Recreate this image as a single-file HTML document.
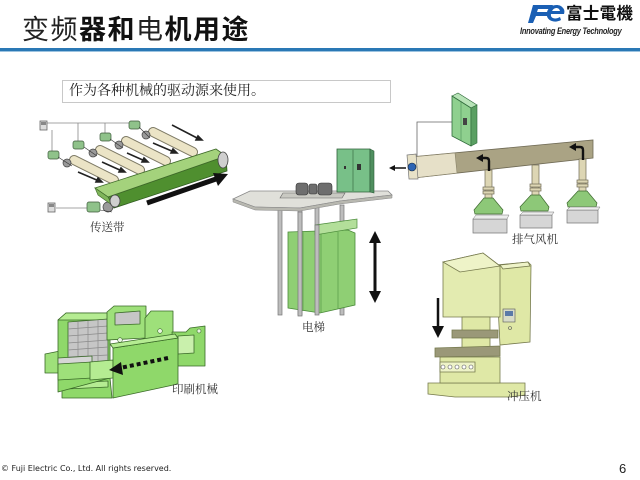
<!DOCTYPE html>
<html><head><meta charset="utf-8">
<style>
html,body{margin:0;padding:0;background:#fff;}
body{width:640px;height:480px;position:relative;overflow:hidden;font-family:"Liberation Sans","Noto Sans CJK SC",sans-serif;}
.title{position:absolute;left:22px;top:13px;font-family:"Liberation Sans","Noto Sans CJK SC",sans-serif;font-size:27px;line-height:34px;letter-spacing:1.5px;color:#111;white-space:nowrap;}
.title b{font-weight:bold;}
.title span{font-weight:normal;color:#222;}
.rule{position:absolute;left:0;top:48px;width:640px;height:3px;background:#2a78b5;}
.rule2{position:absolute;left:0;top:51px;width:640px;height:1px;background:#9cc3e0;}
.box{position:absolute;left:62px;top:80px;width:329px;height:23px;border:1px solid #c8c8c8;box-sizing:border-box;font-family:"Liberation Serif","Noto Serif CJK SC",serif;font-size:14px;line-height:22px;padding-left:6px;color:#222;white-space:nowrap;}
.lbl{position:absolute;font-family:"Liberation Serif","Noto Serif CJK SC",serif;font-size:11.5px;color:#333;white-space:nowrap;line-height:14px;}
.foot{position:absolute;left:1px;top:464px;font-family:"DejaVu Sans","Liberation Sans",sans-serif;font-size:8px;color:#222;white-space:nowrap;}
.pg{position:absolute;left:619px;top:461px;font-family:"Liberation Sans",sans-serif;font-size:13px;color:#222;}
.logo1{position:absolute;left:566px;top:4px;font-family:"Liberation Sans","Noto Sans CJK JP",sans-serif;font-weight:bold;font-size:16.5px;line-height:20px;color:#111;white-space:nowrap;letter-spacing:0.3px;}
.logo2{position:absolute;left:520px;top:26px;font-family:"Liberation Sans",sans-serif;font-weight:bold;font-style:italic;font-size:9.5px;color:#222;white-space:nowrap;letter-spacing:-0.3px;transform:scaleX(0.78);transform-origin:left;}
svg{position:absolute;left:0;top:0;}
</style></head><body>
<div class="title"><span>变频</span><b>器和</b><span>电</span><b>机用途</b></div>
<div class="rule"></div><div class="rule2"></div>
<div class="logo1">富士電機</div>
<div class="logo2">Innovating Energy Technology</div>
<div class="box">作为各种机械的驱动源来使用。</div>

<svg width="640" height="480" viewBox="0 0 640 480">
<!-- Fe logo -->
<g fill="#1a5fb4">
<polygon points="533,5 553,5 551,9 538,9 537,12 549,12 548,16 536,16 533,23 528,23"/>
<path d="M563,8 C560,3 549,4 547,12 C545,20 554,24 561,20 L560,17 C555,20 550,18 551,14 L564,14 C565,11 564,9 563,8 Z M552,11 C554,7 559,7 560,11 Z"/>
</g>

<!-- ========== CONVEYOR ========== -->
<g stroke="#888" stroke-width="0.8" fill="none">
<polyline points="47,123 133,123"/>
<line x1="52" y1="130" x2="52" y2="152"/>
<line x1="78" y1="123" x2="78" y2="143"/>
<line x1="105" y1="123" x2="105" y2="134"/>
<line x1="133" y1="123" x2="133" y2="124"/>
<line x1="56" y1="208" x2="88" y2="208"/>
</g>
<rect x="40" y="121" width="7" height="9" fill="#ddd" stroke="#666" stroke-width="0.8"/>
<rect x="41" y="122" width="5" height="3" fill="#888"/>
<rect x="48" y="203" width="7" height="9" fill="#ddd" stroke="#666" stroke-width="0.8"/>
<rect x="49" y="204" width="5" height="3" fill="#888"/>
<!-- small belts -->
<g stroke-linecap="round">
<line x1="74" y1="160" x2="114" y2="180" stroke="#7d7964" stroke-width="10"/>
<line x1="74" y1="160" x2="114" y2="180" stroke="#ebe4c6" stroke-width="8"/>
<line x1="100" y1="150" x2="140" y2="170" stroke="#7d7964" stroke-width="10"/>
<line x1="100" y1="150" x2="140" y2="170" stroke="#ebe4c6" stroke-width="8"/>
<line x1="126" y1="141" x2="166" y2="161" stroke="#7d7964" stroke-width="10"/>
<line x1="126" y1="141" x2="166" y2="161" stroke="#ebe4c6" stroke-width="8"/>
<line x1="153" y1="132" x2="193" y2="152" stroke="#7d7964" stroke-width="10"/>
<line x1="153" y1="132" x2="193" y2="152" stroke="#ebe4c6" stroke-width="8"/>
</g>
<!-- motors & pulleys -->
<g stroke="#3d5a3a" stroke-width="0.7">
<rect x="48" y="151" width="11" height="8" rx="2" fill="#8fc28a"/>
<rect x="73" y="141" width="11" height="8" rx="2" fill="#8fc28a"/>
<rect x="100" y="133" width="11" height="8" rx="2" fill="#8fc28a"/>
<rect x="129" y="121" width="11" height="8" rx="2" fill="#8fc28a"/>
<rect x="87" y="202" width="13" height="10" rx="2" fill="#8fc28a"/>
</g>
<g fill="#9a9a9a" stroke="#444" stroke-width="0.7">
<circle cx="67" cy="163" r="4"/><circle cx="93" cy="153" r="4"/>
<circle cx="119" cy="145" r="4"/><circle cx="146" cy="135" r="4"/>
<circle cx="108" cy="207" r="5"/>
</g>
<g stroke="#333" stroke-width="0.6" fill="none">
<line x1="58" y1="157" x2="72" y2="166"/><line x1="84" y1="147" x2="97" y2="156"/>
<line x1="110" y1="139" x2="123" y2="148"/><line x1="139" y1="127" x2="150" y2="138"/>
<line x1="100" y1="210" x2="112" y2="212"/>
</g>
<!-- small arrows -->
<g stroke="#222" stroke-width="1.6" fill="#222">
<line x1="78" y1="172" x2="99" y2="181"/><polygon points="102,182 96,182 98,178" />
<line x1="102" y1="162" x2="122" y2="171"/><polygon points="125,172 119,172 121,168"/>
<line x1="127" y1="153" x2="145" y2="161"/><polygon points="148,162 142,162 144,158"/>
<line x1="153" y1="143" x2="174" y2="152"/><polygon points="177,153 171,153 173,149"/>
<line x1="172" y1="125" x2="199" y2="139"/><polygon points="202,140 196,140 198,136"/>
</g>
<!-- main belt -->
<polygon points="108,197 226,156 227,171 114,208" fill="#4f8f2f" stroke="#2f5a20" stroke-width="0.8"/>
<polygon points="95,188 216,149 226,156 108,197" fill="#a4d27c" stroke="#3f6a2a" stroke-width="0.8"/>
<polygon points="95,188 108,197 112,205 98,195" fill="#7fb55a" stroke="#3f6a2a" stroke-width="0.6"/>
<ellipse cx="223" cy="160" rx="5" ry="8" fill="#cfcfcf" stroke="#444" stroke-width="0.8"/>
<ellipse cx="115" cy="201" rx="5" ry="6" fill="#cfcfcf" stroke="#444" stroke-width="0.8"/>
<!-- big arrow -->
<line x1="147" y1="203" x2="216" y2="179" stroke="#111" stroke-width="5"/>
<polygon points="228,174 213,173 218,186" fill="#111"/>

<!-- ========== ELEVATOR ========== -->
<g fill="#bdbdbd" stroke="#777" stroke-width="0.7">
<rect x="278" y="205" width="4" height="110"/>
<rect x="298" y="208" width="4" height="107"/>
<rect x="315" y="205" width="4" height="20"/>
<rect x="340" y="205" width="4" height="110"/>
</g>
<polygon points="233,199 250,191 388,191 392,195 340,201 300,208 255,207" fill="#e0e0da" stroke="#888" stroke-width="0.8"/>
<polygon points="233,199 255,207 300,208 340,201 392,195 392,198 340,204 300,211 255,210 233,202" fill="#b8b8b0" stroke="#888" stroke-width="0.5"/>
<polygon points="283,193 345,193 342,198 280,198" fill="#c9c9c2" stroke="#666" stroke-width="0.6"/>
<g fill="#6e6e6e" stroke="#333" stroke-width="0.6">
<rect x="296" y="183" width="12" height="12" rx="3"/>
<rect x="309" y="184" width="8" height="10" rx="2"/>
<rect x="318" y="183" width="14" height="12" rx="3"/>
</g>
<!-- cabinet -->
<polygon points="337,149 370,149 370,192 337,192" fill="#78c088" stroke="#2f5f3a" stroke-width="0.8"/>
<polygon points="370,149 374,151 374,193 370,192" fill="#4f8f5f" stroke="#2f5f3a" stroke-width="0.6"/>
<line x1="353" y1="150" x2="353" y2="191" stroke="#2f5f3a" stroke-width="0.6"/>
<rect x="357" y="164" width="4" height="6" fill="#333"/>
<rect x="344" y="166" width="2" height="3" fill="#333"/>
<!-- cabin -->
<polygon points="288,232 348,230 355,233 355,305 320,313 288,308" fill="#8fcf74" stroke="#4a8a3a" stroke-width="0.8"/>
<line x1="303" y1="232" x2="303" y2="311" stroke="#5d9f4b" stroke-width="0.8"/>
<line x1="321" y1="234" x2="321" y2="313" stroke="#5d9f4b" stroke-width="0.8"/>
<line x1="338" y1="232" x2="338" y2="309" stroke="#5d9f4b" stroke-width="0.8"/>
<polygon points="315,225 357,219 357,228 315,235" fill="#b3df9a" stroke="#4a8a3a" stroke-width="0.7"/>
<rect x="298" y="212" width="4" height="104" fill="#bdbdbd" stroke="#777" stroke-width="0.7"/>
<rect x="315" y="225" width="4" height="90" fill="#bdbdbd" stroke="#777" stroke-width="0.7"/>
<!-- double arrow -->
<line x1="375" y1="240" x2="375" y2="294" stroke="#111" stroke-width="3"/>
<polygon points="375,231 369,243 381,243" fill="#111"/>
<polygon points="375,303 369,291 381,291" fill="#111"/>

<!-- ========== FAN ========== -->
<polyline points="417,157 417,122 452,122" fill="none" stroke="#666" stroke-width="0.8"/>
<polygon points="452,96 458,93 477,105 471,108" fill="#b7e3b7" stroke="#2f6a3a" stroke-width="0.6"/>
<polygon points="452,96 471,108 471,146 452,136" fill="#8fd08f" stroke="#2f6a3a" stroke-width="0.8"/>
<polygon points="471,108 477,105 477,143 471,146" fill="#5a9f62" stroke="#2f6a3a" stroke-width="0.6"/>
<line x1="461" y1="101" x2="461" y2="141" stroke="#3f7f4a" stroke-width="0.5"/>
<rect x="463" y="118" width="4" height="7" fill="#444"/>
<!-- duct -->
<polygon points="410,157 593,140 593,158 413,178" fill="#aaa384" stroke="#6f6a55" stroke-width="0.8"/>
<polygon points="412,157 455,153 457,173 413,178" fill="#e6e0c8" stroke="#8a846a" stroke-width="0.6"/>
<polygon points="407,155 416,154 418,179 409,179" fill="#e8e2c8" stroke="#777" stroke-width="0.7"/>
<circle cx="412" cy="167" r="4" fill="#2d64b4" stroke="#123" stroke-width="0.6"/>
<line x1="392" y1="168" x2="406" y2="168" stroke="#111" stroke-width="1.5"/>
<polygon points="389,168 395,165 395,171" fill="#111"/>
<!-- pipes -->
<g fill="#ddd6b4" stroke="#6f6a55" stroke-width="0.7">
<rect x="485" y="170" width="7" height="30"/>
<rect x="532" y="165" width="7" height="32"/>
<rect x="579" y="159" width="7" height="34"/>
<rect x="483" y="187" width="11" height="3"/><rect x="483" y="191" width="11" height="3"/>
<rect x="530" y="184" width="11" height="3"/><rect x="530" y="188" width="11" height="3"/>
<rect x="577" y="180" width="11" height="3"/><rect x="577" y="184" width="11" height="3"/>
</g>
<g fill="#8dc878" stroke="#3f6a30" stroke-width="0.7">
<polygon points="484,198 493,198 503,210 502,214 475,214 474,210"/>
<polygon points="531,195 540,195 549,207 548,211 521,211 520,207"/>
<polygon points="578,191 587,191 597,203 596,207 568,207 567,203"/>
</g>
<g fill="#d6d6d6" stroke="#777" stroke-width="0.7">
<polygon points="473,219 507,219 507,233 473,233"/>
<polygon points="520,215 552,215 552,228 520,228"/>
<polygon points="567,210 598,210 598,223 567,223"/>
</g>
<g fill="#ececec" stroke="#777" stroke-width="0.5">
<polygon points="476,215 509,215 507,219 473,219"/>
<polygon points="523,212 554,212 552,215 520,215"/>
<polygon points="570,207 600,207 598,210 567,210"/>
</g>
<!-- curved arrows -->
<g fill="none" stroke="#111" stroke-width="2.4">
<path d="M489,171 L489,161 Q489,158 486,158 L482,158"/>
<path d="M583,160 L583,150 Q583,147 580,147 L575,147"/>
</g>
<polygon points="476,158 483,154 483,162" fill="#111"/>
<polygon points="569,147 576,143 576,151" fill="#111"/>

<!-- ========== PRINTING ========== -->
<g stroke="#3a6a28" stroke-width="0.8" stroke-linejoin="round">
<!-- bottom feet -->
<polygon points="62,380 110,378 112,398 62,398" fill="#8fd86a"/>
<polygon points="66,383 108,381 108,387 66,389" fill="#b5ec92"/>
<!-- left ledge -->
<polygon points="45,354 60,351 60,373 45,373" fill="#9ee07a"/>
<!-- left frame -->
<polygon points="58,320 66,313 110,313 110,378 58,392" fill="#8fd86a"/>
<polygon points="58,320 66,313 110,313 108,320" fill="#b5ec92"/>
<!-- gray rollers -->
<polygon points="68,322 108,319 108,362 68,364" fill="#c6c6c6"/>
</g>
<g stroke="#8a8a8a" stroke-width="0.7">
<line x1="68" y1="329" x2="108" y2="326"/><line x1="68" y1="336" x2="108" y2="333"/>
<line x1="68" y1="343" x2="108" y2="340"/><line x1="68" y1="350" x2="108" y2="347"/>
<line x1="68" y1="357" x2="108" y2="355"/>
<line x1="78" y1="322" x2="78" y2="364"/><line x1="88" y1="321" x2="88" y2="363"/><line x1="98" y1="320" x2="98" y2="362"/>
</g>
<g stroke="#3a6a28" stroke-width="0.8" stroke-linejoin="round">
<polygon points="58,358 92,356 92,363 58,365" fill="#d6d6d6"/>
<polygon points="58,364 92,362 92,378 58,380" fill="#9ee07a"/>
<polygon points="90,362 113,360 113,378 90,380" fill="#b5ec92"/>
<!-- top middle -->
<polygon points="107,312 114,306 146,306 146,338 107,340" fill="#9ee07a"/>
<polygon points="115,313 140,311 140,324 115,325" fill="#c6c6c6"/>
<!-- top right block -->
<polygon points="145,318 151,311 173,311 173,342 145,342" fill="#9ee07a"/>
<!-- right extension -->
<polygon points="172,332 186,332 190,328 205,326 205,366 174,366" fill="#8fd86a"/>
<polygon points="178,336 194,335 194,353 178,354" fill="#c9f0ac"/>
<!-- front slab -->
<polygon points="113,348 178,338 178,384 113,398" fill="#8fd86a"/>
<polygon points="110,344 175,334 178,338 113,348" fill="#b5ec92"/>
</g>
<g fill="#e8f5e0" stroke="#3a6a28" stroke-width="0.6">
<circle cx="120" cy="340" r="2.3"/><circle cx="160" cy="331" r="2.3"/><circle cx="199" cy="331" r="2"/>
</g>
<line x1="168" y1="358" x2="120" y2="368" stroke="#111" stroke-width="4" stroke-dasharray="4 3"/>
<polygon points="109,370 121,362 123,375" fill="#111"/>

<!-- ========== PRESS ========== -->
<g stroke="#767a4e" stroke-width="0.8">
<polygon points="428,383 525,383 525,395 510,397 455,397 428,394" fill="#dfe8a6"/>
<polygon points="440,357 500,357 500,383 440,383" fill="#dfe8a6"/>
<polygon points="496,265 528,262 531,265 530,342 500,345" fill="#dfe8a6"/>
<polygon points="500,265 528,262 530,266 503,269" fill="#eef3c8"/>
<polygon points="443,262 483,253 500,266 500,317 443,317" fill="#e3ebb0"/>
<polygon points="443,262 483,253 500,266 460,272" fill="#eef3c8"/>
<polygon points="462,317 490,317 490,332 462,332" fill="#dfe8a6"/>
<polygon points="452,330 498,330 498,338 452,338" fill="#9a9878"/>
<polygon points="462,338 490,338 490,348 462,348" fill="#dfe8a6"/>
<polygon points="435,348 500,346 500,356 435,357" fill="#9a9878"/>
<polygon points="440,362 475,362 475,372 440,372" fill="#eef3c8"/>
</g>
<rect x="503" y="309" width="12" height="13" fill="#d8dcc8" stroke="#555" stroke-width="0.6"/>
<rect x="505" y="311" width="8" height="5" fill="#5a7aa8"/>
<circle cx="510" cy="328" r="1.5" fill="none" stroke="#555" stroke-width="0.6"/>
<g fill="#fff" stroke="#555" stroke-width="0.6">
<circle cx="443" cy="367" r="2"/><circle cx="450" cy="367" r="2"/><circle cx="457" cy="367" r="2"/><circle cx="464" cy="367" r="2"/><circle cx="471" cy="367" r="2"/>
</g>
<line x1="438" y1="298" x2="438" y2="328" stroke="#111" stroke-width="2.5"/>
<polygon points="438,338 432,326 444,326" fill="#111"/>
</svg>

<div class="lbl" style="left:90px;top:221px;">传送带</div>
<div class="lbl" style="left:302px;top:321px;">电梯</div>
<div class="lbl" style="left:512px;top:233px;">排气风机</div>
<div class="lbl" style="left:172px;top:383px;">印刷机械</div>
<div class="lbl" style="left:507px;top:390px;">冲压机</div>

<div class="foot">© Fuji Electric Co., Ltd. All rights reserved.</div>
<div class="pg">6</div>
</body></html>
